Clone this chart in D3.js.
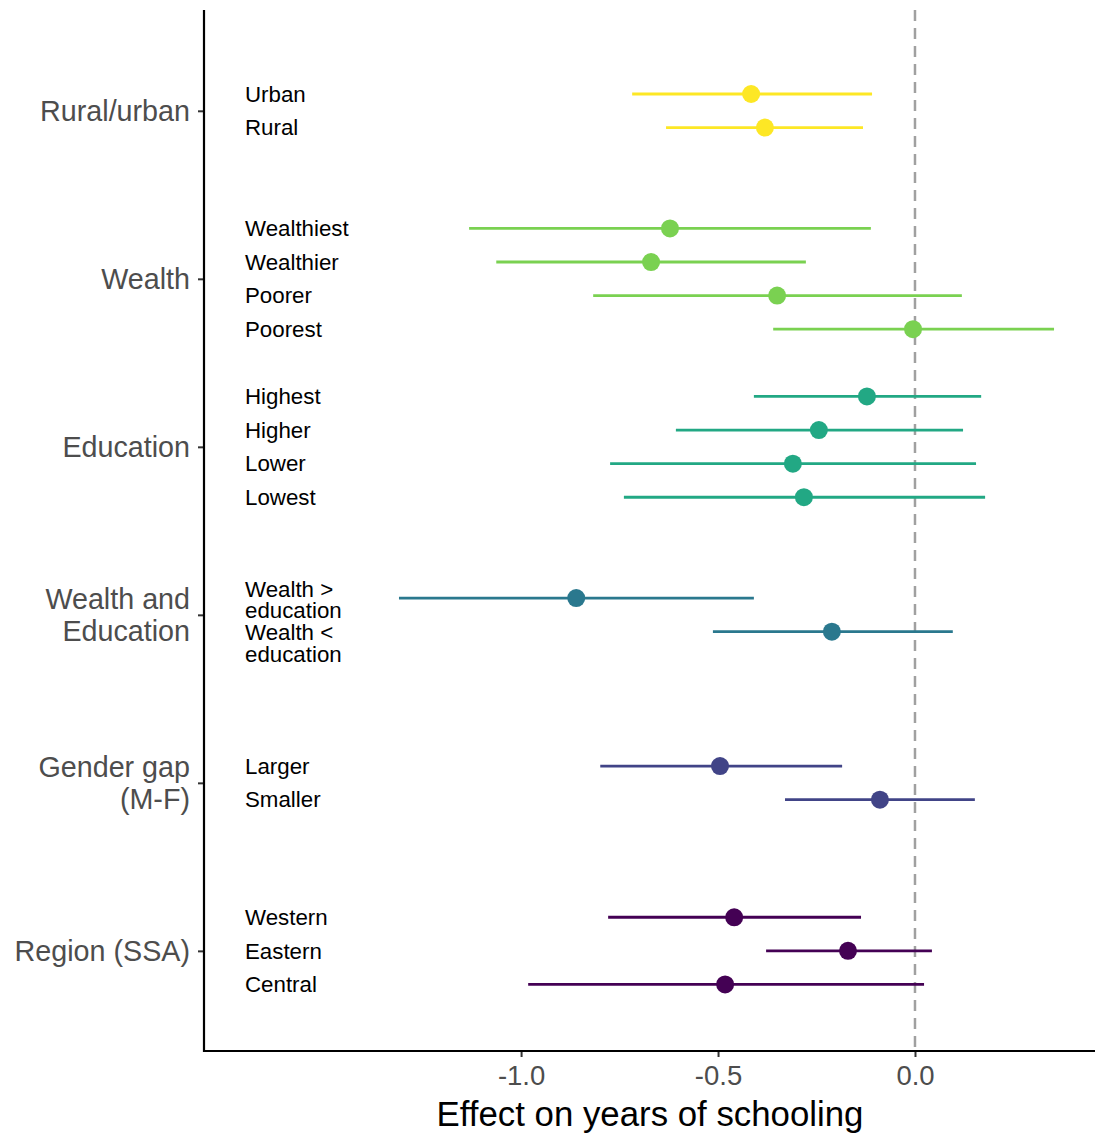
<!DOCTYPE html>
<html>
<head>
<meta charset="utf-8">
<script src="https://cdn.jsdelivr.net/npm/d3@7"></script>
<style>
  body { margin: 0; background: #fff; }
  text { font-family: "Liberation Sans", Arial, Helvetica, sans-serif; }
</style>
</head>
<body>
<div id="chart"></div>
<script>
const width = 1102, height = 1133;

// groups (y axis) and the rows inside them
const groups = ["Rural/urban", "Wealth", "Education", "Wealth and\nEducation", "Gender gap\n(M-F)", "Region (SSA)"];
const groupColors = ["#FDE725", "#7AD151", "#22A884", "#2A788E", "#414487", "#440154"];
const groupSlot = [0.5, 5.5, 10.5, 15.5, 20.5, 25.5];

const labels = ["Urban", "Rural", "Wealthiest", "Wealthier", "Poorer", "Poorest",
  "Highest", "Higher", "Lower", "Lowest", "Wealth >\neducation", "Wealth <\neducation",
  "Larger", "Smaller", "Western", "Eastern", "Central"];
const rowGroup = [0, 0, 1, 1, 1, 1, 2, 2, 2, 2, 3, 3, 4, 4, 5, 5, 5];
const rowSlot = [0, 1, 4, 5, 6, 7, 9, 10, 11, 12, 15, 16, 20, 21, 24.5, 25.5, 26.5];
const estimate = [-0.416, -0.381, -0.622, -0.670, -0.350, -0.005,
  -0.122, -0.244, -0.310, -0.282, -0.860, -0.211,
  -0.495, -0.089, -0.459, -0.170, -0.482];
const lower = [-0.718, -0.632, -1.132, -1.063, -0.817, -0.360,
  -0.409, -0.607, -0.774, -0.739, -1.310, -0.513,
  -0.799, -0.330, -0.779, -0.378, -0.982];
const upper = [-0.109, -0.132, -0.112, -0.277, 0.119, 0.353,
  0.168, 0.122, 0.155, 0.178, -0.409, 0.096,
  -0.185, 0.152, -0.137, 0.043, 0.023];
const xTicks = [-1.0, -0.5, 0.0];

const rows = labels.map((d, i) => ({
  label: d, group: rowGroup[i], slot: rowSlot[i],
  est: estimate[i], lo: lower[i], hi: upper[i]
}));

const margin = {left: 204, right: 7, top: 10, bottom: 82};

const x = d3.scaleLinear()
  .domain([-1.805, 0.457])
  .range([margin.left, width - margin.right]);

const y = d3.scaleLinear()
  .domain([-2.5, 28.48])
  .range([margin.top, height - margin.bottom]);

const svg = d3.select("#chart")
  .append("svg")
  .attr("width", width)
  .attr("height", height);

// zero reference line
svg.append("line")
  .attr("x1", x(0)).attr("x2", x(0))
  .attr("y1", margin.top).attr("y2", height - margin.bottom)
  .attr("stroke", "#a0a0a0")
  .attr("stroke-width", 2.5)
  .attr("stroke-dasharray", "11,7");

// intervals
svg.selectAll(".ci")
  .data(rows)
  .enter()
  .append("line")
  .classed("ci", true)
  .attr("x1", d => x(d.lo))
  .attr("x2", d => x(d.hi))
  .attr("y1", d => y(d.slot))
  .attr("y2", d => y(d.slot))
  .attr("stroke", d => groupColors[d.group])
  .attr("stroke-width", 2.8);

// points
svg.selectAll(".pt")
  .data(rows)
  .enter()
  .append("circle")
  .classed("pt", true)
  .attr("cx", d => x(d.est))
  .attr("cy", d => y(d.slot))
  .attr("r", 9)
  .attr("fill", d => groupColors[d.group]);

// row labels inside the panel; two-line labels stack like in the original
const lineGap = 21.5;
const rowLabels = svg.selectAll(".rowlab")
  .data(rows)
  .enter()
  .append("text")
  .classed("rowlab", true)
  .attr("font-size", 22.3)
  .attr("fill", "#000");

rowLabels.each(function(d) {
  const parts = d.label.split("\n");
  const el = d3.select(this);
  // first wrapped label sits a bit high, second starts at its row
  let start = 0;
  if (parts.length > 1) start = d.label.startsWith("Wealth >") ? -9 : 1;
  parts.forEach((p, i) => {
    el.append("tspan")
      .attr("x", 245)
      .attr("y", y(d.slot) + start + i * lineGap)
      .attr("dy", "0.35em")
      .text(p);
  });
});

// x axis
const xAxis = svg.append("g")
  .attr("transform", `translate(0,${height - margin.bottom})`)
  .call(d3.axisBottom(x).tickValues(xTicks).tickFormat(d3.format(".1f")).tickSizeOuter(0).tickSize(6).tickPadding(8));
xAxis.select(".domain").remove();
xAxis.selectAll(".tick line").attr("stroke", "#333").attr("stroke-width", 2);
xAxis.selectAll(".tick text")
  .attr("font-size", 27.5)
  .attr("fill", "#4d4d4d")
  .attr("font-family", "Liberation Sans, Arial, sans-serif")
  .text(d => d3.format(".1f")(d).replace("−", "-"));

// y axis
const yAxis = svg.append("g")
  .attr("transform", `translate(${margin.left},0)`)
  .call(d3.axisLeft(y).tickValues(groupSlot).tickFormat("").tickSizeOuter(0).tickSize(6));
yAxis.select(".domain").remove();
yAxis.selectAll(".tick line").attr("stroke", "#333").attr("stroke-width", 2);

// axis lines
svg.append("line")
  .attr("x1", margin.left).attr("x2", margin.left)
  .attr("y1", margin.top).attr("y2", height - margin.bottom + 1)
  .attr("stroke", "#000").attr("stroke-width", 2.2);
svg.append("line")
  .attr("x1", margin.left - 1).attr("x2", width - margin.right)
  .attr("y1", height - margin.bottom).attr("y2", height - margin.bottom)
  .attr("stroke", "#000").attr("stroke-width", 2.2);

const groupLabels = svg.selectAll(".grouplab")
  .data(groups)
  .enter()
  .append("text")
  .classed("grouplab", true)
  .attr("text-anchor", "end")
  .attr("font-size", 28.7)
  .attr("fill", "#4d4d4d");

groupLabels.each(function(d, i) {
  const parts = d.split("\n");
  const el = d3.select(this);
  parts.forEach((p, j) => {
    el.append("tspan")
      .attr("x", 190)
      .attr("y", y(groupSlot[i]) + (j - (parts.length - 1) / 2) * 32)
      .attr("dy", "0.35em")
      .text(p);
  });
});

// axis title
svg.append("text")
  .attr("x", 650)
  .attr("y", 1126)
  .attr("text-anchor", "middle")
  .attr("font-size", 34.8)
  .attr("fill", "#000")
  .text("Effect on years of schooling");
</script>
</body>
</html>
